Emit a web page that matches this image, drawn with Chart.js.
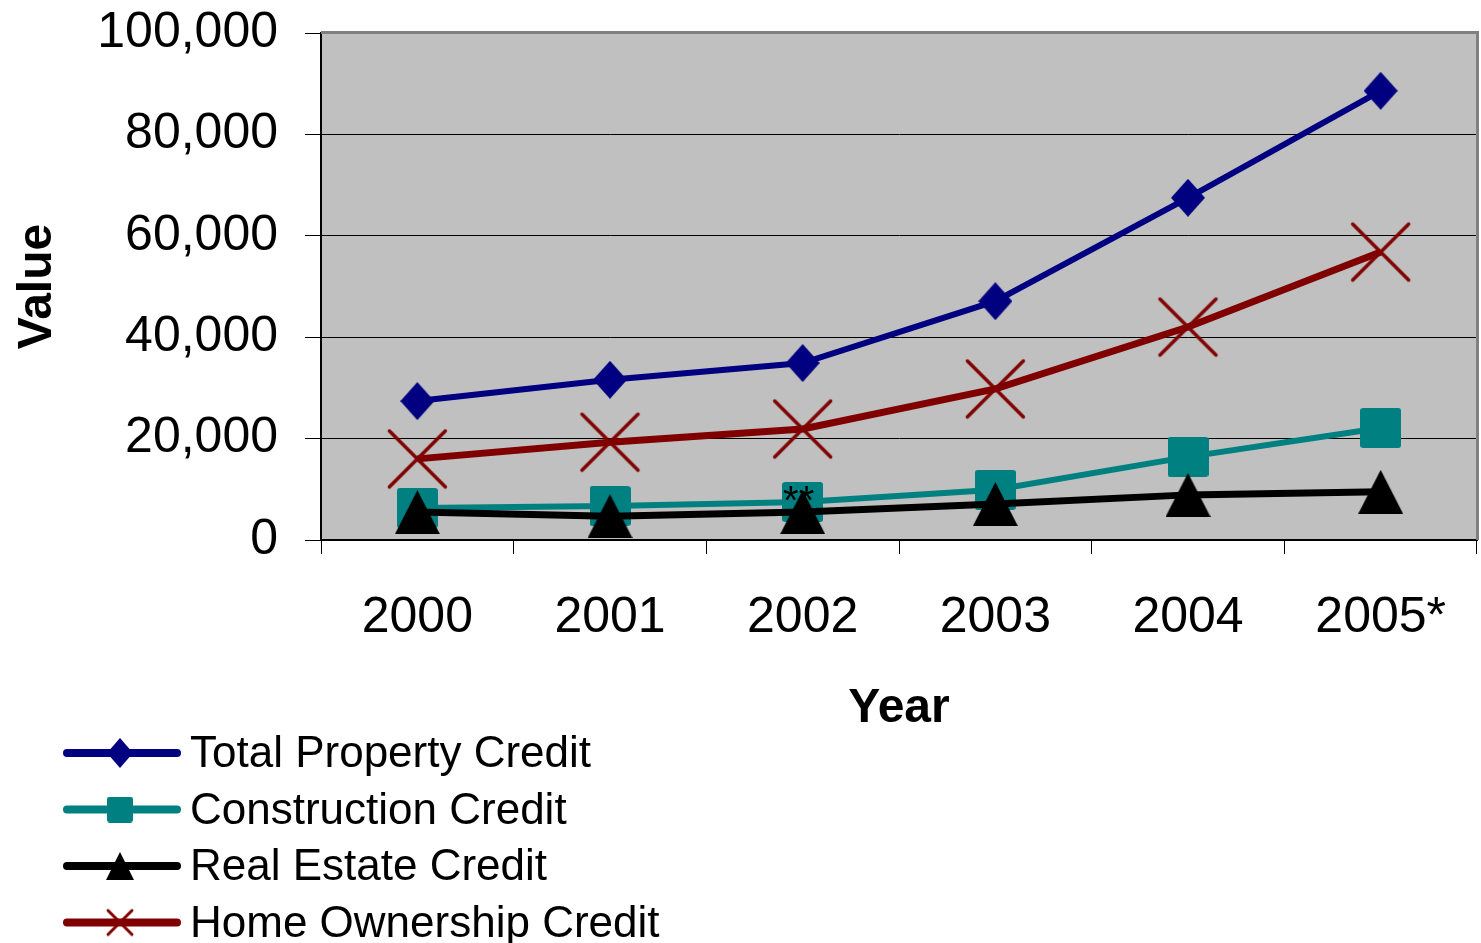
<!DOCTYPE html>
<html>
<head>
<meta charset="utf-8">
<script src="https://cdn.jsdelivr.net/npm/chart.js@4.4.1/dist/chart.umd.min.js"></script>
<style>
  html, body { margin: 0; padding: 0; background: #fff; }
</style>
</head>
<body>
<canvas id="chart" width="1481" height="943"></canvas>
<script>
const years = ["2000", "2001", "2002", "2003", "2004", "2005*"];
const totalProperty = [27400, 31600, 34900, 47100, 67500, 88600];
const construction = [6300, 6700, 7500, 9900, 16400, 22100];
const realEstate = [5500, 4700, 5500, 7100, 8900, 9500];
const homeOwnership = [16000, 19300, 21900, 29800, 42000, 56800];
const seriesNames = ["Total Property Credit", "Construction Credit", "Real Estate Credit", "Home Ownership Credit"];
const yTicks = [0, 20000, 40000, 60000, 80000, 100000];
const noteText = "**";
const noteIndex = 2; // sits on the 2002 construction point

const FONT = "'Liberation Sans', Arial, sans-serif";
const NAVY = "#000080", TEAL = "#008080", BLACK = "#000000", MAROON = "#800000";

// little canvases used as point styles, so markers look like the Excel ones
function makeMarker(kind, color, w, h, lw) {
    const c = document.createElement("canvas");
    c.width = w;
    c.height = h;
    const g = c.getContext("2d");
    g.fillStyle = color;
    g.strokeStyle = color;
    g.beginPath();
    if (kind === "diamond") {
        g.moveTo(w / 2, 0); g.lineTo(w, h / 2); g.lineTo(w / 2, h); g.lineTo(0, h / 2);
        g.closePath(); g.fill();
    } else if (kind === "square") {
        g.roundRect(0, 0, w, h, 3); g.fill();
    } else if (kind === "triangle") {
        g.moveTo(w / 2, 0); g.lineTo(w, h); g.lineTo(0, h);
        g.closePath(); g.fill();
    } else if (kind === "cross") {
        const p = lw;
        g.lineWidth = lw; g.lineCap = "round";
        g.moveTo(p, p); g.lineTo(w - p, h - p);
        g.moveTo(w - p, p); g.lineTo(p, h - p);
        g.stroke();
    }
    return c;
}

const chartMarkers = [
    makeMarker("diamond", NAVY, 34, 38),
    makeMarker("square", TEAL, 41, 40),
    makeMarker("triangle", BLACK, 45, 44),
    makeMarker("cross", MAROON, 63, 63, 3.5)
];
const legendMarkers = [
    makeMarker("diamond", NAVY, 26, 30),
    makeMarker("square", TEAL, 26, 26),
    makeMarker("triangle", BLACK, 28, 28),
    makeMarker("cross", MAROON, 30, 30, 3)
];

const plotBack = {
    id: "plotBack",
    beforeDraw(chart) {
        const { ctx, chartArea: a } = chart;
        ctx.save();
        ctx.fillStyle = "#c0c0c0";
        ctx.fillRect(a.left, a.top, a.right - a.left, a.bottom - a.top);
        ctx.restore();
    },
    afterDraw(chart) {
        const { ctx, chartArea: a } = chart;
        ctx.save();
        ctx.strokeStyle = "#808080";
        ctx.lineWidth = 3;
        ctx.beginPath();
        ctx.moveTo(a.left, a.top - 0.5);
        ctx.lineTo(a.right + 0.5, a.top - 0.5);
        ctx.lineTo(a.right + 0.5, a.bottom);
        ctx.stroke();
        ctx.restore();
    }
};

const noteMark = {
    id: "noteMark",
    afterDatasetsDraw(chart) {
        const ctx = chart.ctx;
        const x = chart.scales.x.getPixelForValue(noteIndex) - 4;
        const y = chart.scales.y.getPixelForValue(construction[noteIndex]) + 12;
        ctx.save();
        ctx.fillStyle = "#000";
        ctx.font = "40px " + FONT;
        ctx.textAlign = "center";
        ctx.textBaseline = "alphabetic";
        ctx.fillText(noteText, x, y);
        ctx.restore();
    }
};

const sideLegend = {
    id: "sideLegend",
    afterDraw(chart) {
        const ctx = chart.ctx;
        seriesNames.forEach((name, i) => {
            const ds = chart.data.datasets[i];
            const y = 753 + i * 56.5;
            ctx.save();
            ctx.strokeStyle = ds.borderColor;
            ctx.lineWidth = 8;
            ctx.lineCap = "round";
            ctx.beginPath();
            ctx.moveTo(67, y);
            ctx.lineTo(177, y);
            ctx.stroke();
            const m = legendMarkers[i];
            ctx.drawImage(m, 120 - m.width / 2, y - m.height / 2);
            ctx.fillStyle = "#000";
            ctx.font = "44px " + FONT;
            ctx.textBaseline = "middle";
            ctx.fillText(name, 190, y + 2);
            ctx.restore();
        });
    }
};

const seriesData = [totalProperty, construction, realEstate, homeOwnership];
const seriesColors = [NAVY, TEAL, BLACK, MAROON];
const seriesWidths = [6, 6, 7, 7];
const seriesOrder = [4, 3, 2, 1]; // later series on top, like Excel

new Chart(document.getElementById("chart"), {
    type: "line",
    data: {
        labels: years,
        datasets: seriesNames.map((name, i) => ({
            label: name,
            data: seriesData[i],
            borderColor: seriesColors[i],
            backgroundColor: seriesColors[i],
            borderWidth: seriesWidths[i],
            pointStyle: chartMarkers[i],
            pointRadius: 20,
            tension: 0,
            fill: false,
            clip: false,
            order: seriesOrder[i]
        }))
    },
    options: {
        responsive: false,
        animation: false,
        devicePixelRatio: 1,
        layout: { autoPadding: false, padding: { top: 33, left: 0, right: 4, bottom: 0 } },
        plugins: {
            legend: { display: false },
            tooltip: { enabled: false }
        },
        scales: {
            x: {
                offset: true,
                grid: {
                    offset: true,
                    drawOnChartArea: false,
                    drawTicks: true,
                    tickLength: 14,
                    color: "#000",
                    lineWidth: 1
                },
                border: { display: true, color: "#000", width: 2 },
                ticks: {
                    color: "#000",
                    font: { family: FONT, size: 50 },
                    padding: 34,
                    maxRotation: 0,
                    autoSkip: false
                },
                title: {
                    display: true,
                    text: "Year",
                    color: "#000",
                    font: { family: FONT, size: 48, weight: "bold" },
                    padding: { top: 0, bottom: 205 }
                },
                afterFit: (s) => {
                    s.height = 403;
                    s.paddingLeft = 0;
                    s.paddingRight = 0;
                }
            },
            y: {
                min: 0,
                max: 100000,
                afterBuildTicks: (s) => { s.ticks = yTicks.map((v) => ({ value: v })); },
                grid: {
                    color: "#000",
                    lineWidth: 1,
                    tickLength: 16
                },
                border: { display: true, color: "#000", width: 2 },
                ticks: {
                    color: "#000",
                    font: { family: FONT, size: 50 },
                    padding: 27,
                    callback: (v) => v.toLocaleString("en-US")
                },
                title: {
                    display: true,
                    text: "Value",
                    color: "#000",
                    font: { family: FONT, size: 48, weight: "bold" },
                    padding: { top: 9, bottom: 0 }
                },
                afterFit: (s) => {
                    s.width = 321;
                    s.paddingTop = 0;
                    s.paddingBottom = 0;
                }
            }
        }
    },
    plugins: [plotBack, noteMark, sideLegend]
});
</script>
</body>
</html>
